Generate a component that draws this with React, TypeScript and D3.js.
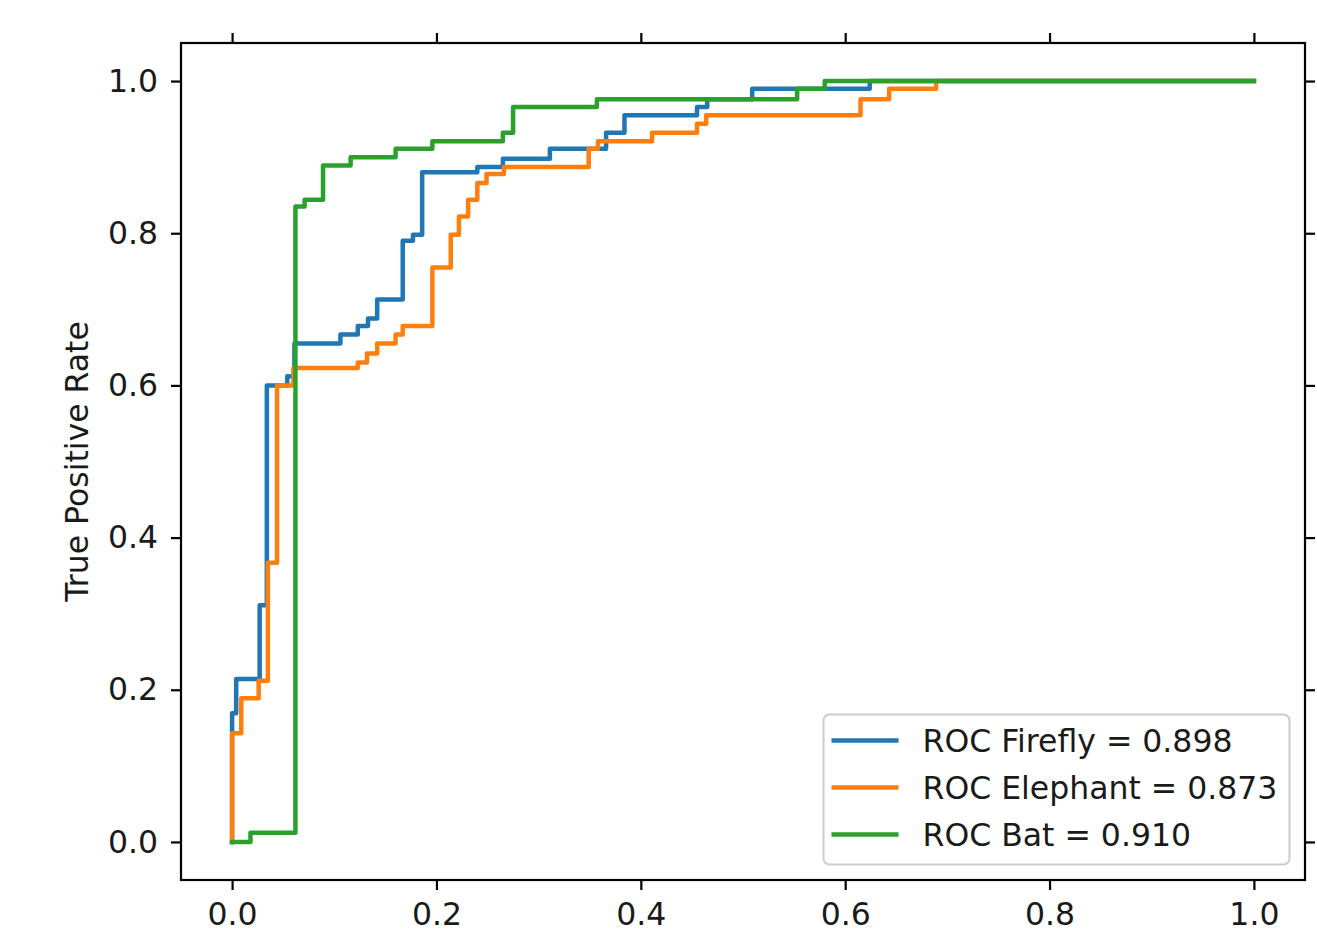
import { useEffect, useRef } from 'react';
import * as d3 from 'd3';

// step points (fpr, tpr)
const fireflyFpr = [0, 0, 0.004, 0.004, 0.027, 0.027, 0.034, 0.034, 0.054, 0.054, 0.061, 0.061, 0.106, 0.106, 0.123, 0.123, 0.133, 0.133, 0.142, 0.142, 0.167, 0.167, 0.177, 0.177, 0.186, 0.186, 0.240, 0.240, 0.265, 0.265, 0.311, 0.311, 0.366, 0.366, 0.384, 0.384, 0.455, 0.455, 0.465, 0.465, 0.509, 0.509, 0.624, 0.624, 1.0];
const fireflyTpr = [0, 0.169, 0.169, 0.214, 0.214, 0.311, 0.311, 0.600, 0.600, 0.612, 0.612, 0.655, 0.655, 0.667, 0.667, 0.678, 0.678, 0.688, 0.688, 0.713, 0.713, 0.790, 0.790, 0.798, 0.798, 0.880, 0.880, 0.887, 0.887, 0.898, 0.898, 0.911, 0.911, 0.932, 0.932, 0.955, 0.955, 0.966, 0.966, 0.976, 0.976, 0.990, 0.990, 1.0, 1.0];

const elephantFpr = [0, 0, 0.009, 0.009, 0.026, 0.026, 0.035, 0.035, 0.044, 0.044, 0.060, 0.060, 0.123, 0.123, 0.132, 0.132, 0.142, 0.142, 0.160, 0.160, 0.167, 0.167, 0.196, 0.196, 0.214, 0.214, 0.222, 0.222, 0.231, 0.231, 0.240, 0.240, 0.249, 0.249, 0.266, 0.266, 0.349, 0.349, 0.358, 0.358, 0.411, 0.411, 0.455, 0.455, 0.464, 0.464, 0.615, 0.615, 0.643, 0.643, 0.689, 0.689, 1.0];
const elephantTpr = [0, 0.143, 0.143, 0.189, 0.189, 0.212, 0.212, 0.367, 0.367, 0.600, 0.600, 0.623, 0.623, 0.630, 0.630, 0.642, 0.642, 0.655, 0.655, 0.667, 0.667, 0.678, 0.678, 0.755, 0.755, 0.798, 0.798, 0.822, 0.822, 0.844, 0.844, 0.866, 0.866, 0.878, 0.878, 0.887, 0.887, 0.911, 0.911, 0.921, 0.921, 0.932, 0.932, 0.944, 0.944, 0.955, 0.955, 0.976, 0.976, 0.990, 0.990, 1.0, 1.0];

const batFpr = [0, 0.018, 0.018, 0.062, 0.062, 0.071, 0.071, 0.089, 0.089, 0.116, 0.116, 0.160, 0.160, 0.196, 0.196, 0.265, 0.265, 0.275, 0.275, 0.357, 0.357, 0.553, 0.553, 0.580, 0.580, 1.0];
const batTpr = [0, 0, 0.012, 0.012, 0.835, 0.835, 0.844, 0.844, 0.889, 0.889, 0.900, 0.900, 0.911, 0.911, 0.921, 0.921, 0.932, 0.932, 0.966, 0.966, 0.976, 0.976, 0.990, 0.990, 1.0, 1.0];

const seriesNames = ['ROC Firefly = 0.898', 'ROC Elephant = 0.873', 'ROC Bat = 0.910'];
const tickValues = [0, 0.2, 0.4, 0.6, 0.8, 1.0];
const yLabel = 'True Positive Rate';

const colors = ['#1f77b4', '#ff7f0e', '#2ca02c'];

const RocChart = () => {
    const svgRef = useRef(null);

    useEffect(() => {
        const w = 1317;
        const h = 943;
        const margin = {top: 43, left: 181, right: 12, bottom: 63};
        const width = w - margin.left - margin.right;
        const height = h - margin.top - margin.bottom;
        const font = 'DejaVu Sans';
        const fs = 31.5;

        const svg = d3.select(svgRef.current);
        svg.selectAll('*').remove();
        svg.attr('width', w).attr('height', h);

        const x = d3.scaleLinear().domain([-0.05, 1.05]).range([margin.left, margin.left + width]);
        const y = d3.scaleLinear().domain([-0.05, 1.05]).range([margin.top + height, margin.top]);

        const styleAxis = (g) => {
            g.attr('font-size', fs).attr('font-family', font);
            g.select('.domain').remove();
            g.selectAll('.tick line').attr('stroke', '#000').attr('stroke-width', 2.2);
            g.selectAll('.tick text').attr('fill', '#1a1a1a');
        };
        const fmt = d3.format('.1f');

        svg.append('g')
            .attr('transform', `translate(0, ${margin.top + height})`)
            .call(d3.axisBottom(x).tickValues(tickValues).tickSize(10).tickPadding(13).tickFormat(fmt))
            .call(styleAxis);
        svg.append('g')
            .attr('transform', `translate(0, ${margin.top})`)
            .call(d3.axisTop(x).tickValues(tickValues).tickSize(10).tickFormat(() => ''))
            .call(styleAxis);
        svg.append('g')
            .attr('transform', `translate(${margin.left}, 0)`)
            .call(d3.axisLeft(y).tickValues(tickValues).tickSize(10).tickPadding(13).tickFormat(fmt))
            .call(styleAxis);
        svg.append('g')
            .attr('transform', `translate(${margin.left + width}, 0)`)
            .call(d3.axisRight(y).tickValues(tickValues).tickSize(10).tickFormat(() => ''))
            .call(styleAxis);

        //curves
        const series = [
            d3.zip(fireflyFpr, fireflyTpr),
            d3.zip(elephantFpr, elephantTpr),
            d3.zip(batFpr, batTpr)
        ];
        const line = d3.line().x(d => x(d[0])).y(d => y(d[1]));
        svg.append('g')
            .selectAll('path')
            .data(series)
            .enter().append('path')
            .attr('d', d => line(d))
            .attr('fill', 'none')
            .attr('stroke', (d, i) => colors[i])
            .attr('stroke-width', 4.5)
            .attr('stroke-linejoin', 'round')
            .attr('stroke-linecap', 'square');

        //frame
        svg.append('rect')
            .attr('x', margin.left)
            .attr('y', margin.top)
            .attr('width', width)
            .attr('height', height)
            .attr('fill', 'none')
            .attr('stroke', '#000')
            .attr('stroke-width', 2.2);

        //y label
        svg.append('text')
            .attr('transform', `translate(77, ${margin.top + height / 2}) rotate(-90)`)
            .attr('text-anchor', 'middle')
            .attr('dy', '0.35em')
            .attr('font-family', font)
            .attr('font-size', fs)
            .attr('fill', '#1a1a1a')
            .text(yLabel);

        //legend
        const lw = 466;
        const lh = 150;
        const lx = margin.left + width - 15.5 - lw;
        const ly = margin.top + height - 15.5 - lh;
        const legend = svg.append('g').attr('transform', `translate(${lx}, ${ly})`);
        legend.append('rect')
            .attr('width', lw)
            .attr('height', lh)
            .attr('rx', 6)
            .attr('fill', 'rgba(255,255,255,0.8)')
            .attr('stroke', '#cccccc')
            .attr('stroke-width', 2);
        const rows = legend.selectAll('g.row')
            .data(seriesNames)
            .enter().append('g')
            .attr('class', 'row')
            .attr('transform', (d, i) => `translate(0, ${26 + i * 47})`);
        rows.append('line')
            .attr('x1', 8).attr('x2', 75)
            .attr('stroke', (d, i) => colors[i])
            .attr('stroke-width', 4.5);
        rows.append('text')
            .attr('x', 99)
            .attr('dy', '0.35em')
            .attr('font-family', font)
            .attr('font-size', fs)
            .attr('fill', '#1a1a1a')
            .text(d => d);
    }, []);

    return (
        <svg ref={svgRef} style={{position: 'absolute', left: 0, top: 0, display: 'block'}}></svg>
    );
};

export default function App() {
    return <RocChart />;
}
